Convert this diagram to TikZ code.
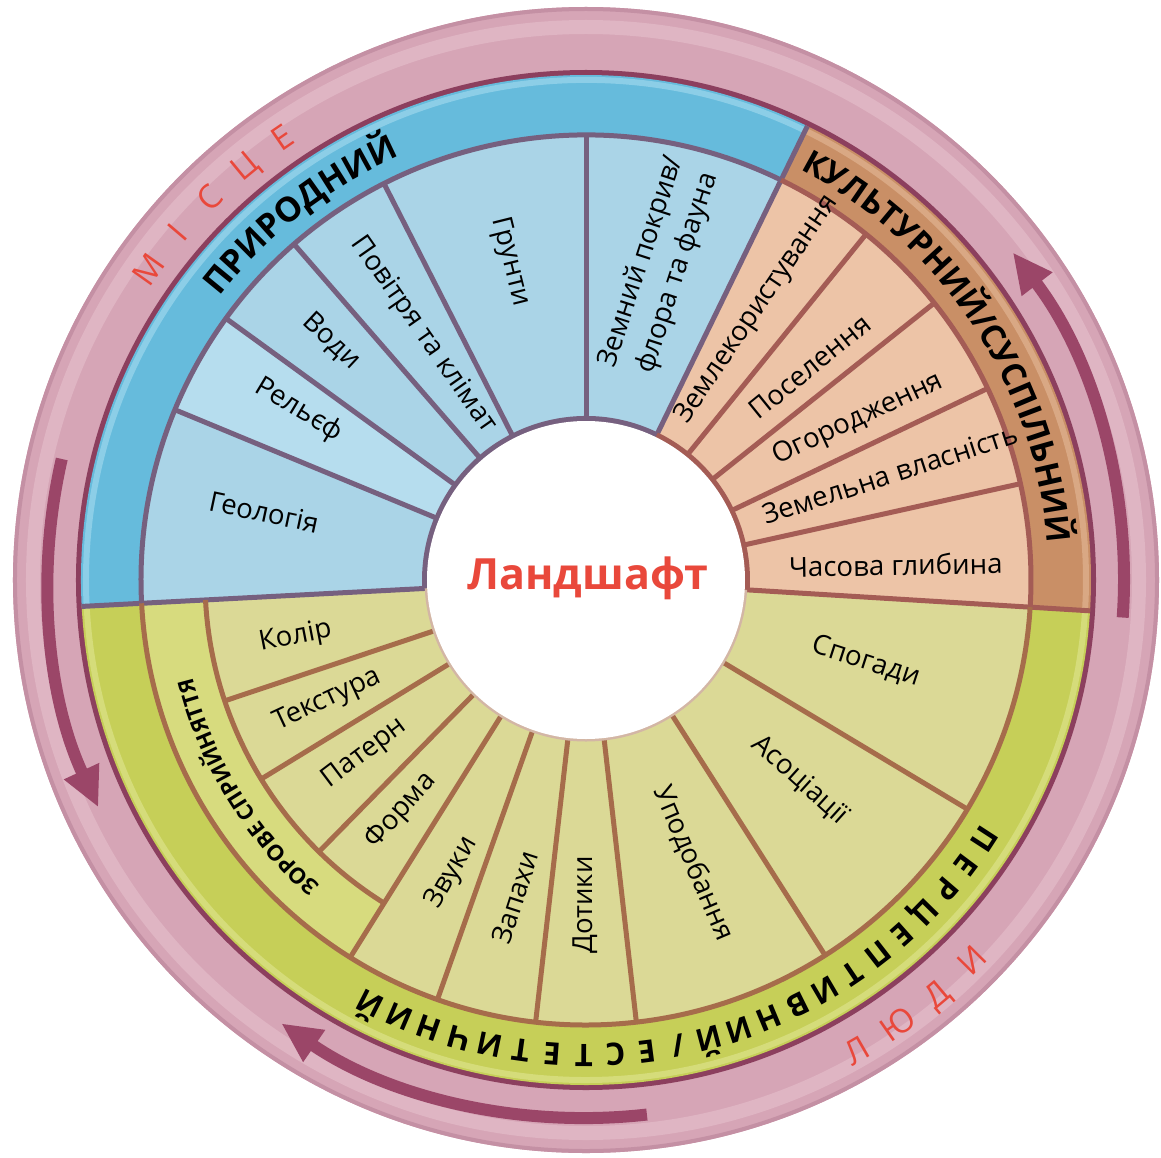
\documentclass[tikz,border=0pt]{standalone}
\usepackage{fontspec}
\setmainfont{Open Sans}
\usetikzlibrary{arrows.meta,decorations.text}
\definecolor{pinkmain}{HTML}{D6A5B6}
\definecolor{pinklight}{HTML}{DFB5C3}
\definecolor{pinkdark}{HTML}{C490A4}
\definecolor{maroon}{HTML}{9B4668}
\definecolor{rimmaroon}{HTML}{8C3F5E}
\definecolor{blueband}{HTML}{66BBDC}
\definecolor{bluebandlight}{HTML}{8CCEE7}
\definecolor{blueseg}{HTML}{AAD4E7}
\definecolor{bluesegl}{HTML}{B6DDEE}
\definecolor{blueline}{HTML}{76607F}
\definecolor{brownband}{HTML}{C98F66}
\definecolor{brownbandlight}{HTML}{D9A884}
\definecolor{brownseg}{HTML}{EDC4A7}
\definecolor{brownline}{HTML}{A45C55}
\definecolor{greenband}{HTML}{C6CF58}
\definecolor{greenbandlight}{HTML}{D5DC7A}
\definecolor{greenseg}{HTML}{DBD996}
\definecolor{greensub}{HTML}{D7DB7E}
\definecolor{greenline}{HTML}{A66C4B}
\definecolor{redtext}{HTML}{E9483B}
\newcommand\ringsector[5]{\fill[#1] (#2:#4) arc[start angle=#2,end angle=#3,radius=#4] -- (#3:#5) arc[start angle=#3,end angle=#2,radius=#5] -- cycle;}
\newcommand\ringarc[4]{\draw[#1] (#2:#4) arc[start angle=#2,end angle=#3,radius=#4];}
\begin{document}
\begin{tikzpicture}[x=0.5pt,y=0.5pt,
  lbl/.style={font=\fontsize{13.8}{19}\selectfont, inner sep=0pt, align=center, text=black},
  sepline/.style={line width=2.5pt, line cap=butt},
  arrowsty/.style={draw=maroon, line width=6pt, -{Triangle[width=18pt,length=20pt]}},
  bandletter/.style={font=\bfseries\fontsize{15.5}{18}\selectfont, anchor=base, inner sep=0pt},
  redletter/.style={font=\fontsize{16.5}{19}\selectfont, text=redtext, anchor=base, inner sep=0pt}
]
\useasboundingbox (-586,-577) rectangle (575,580);
% ---- outer pink ring
\fill[pinkmain] (0,0) circle[radius=573];
\draw[pinkdark, line width=2pt] (0,0) circle[radius=571];
\draw[pinklight, line width=7pt] (0,0) circle[radius=553];
\draw[rimmaroon, line width=3pt] (0,0) circle[radius=507];
% ---- arrows in the ring
\draw[arrowsty] (-4:538) arc[start angle=-4, end angle=37.5, radius=538];
\draw[arrowsty] (167:538) arc[start angle=167, end angle=205, radius=538];
\draw[arrowsty] (-83.5:538) arc[start angle=-83.5, end angle=-124.5, radius=538];
% ---- category bands
\ringsector{blueband}{64}{183}{150}{505}
\ringsector{brownband}{-3.5}{64}{150}{505}
\ringsector{greenband}{183}{356.5}{150}{505}
\ringarc{bluebandlight, line width=3pt}{64}{183}{500}
\ringarc{brownbandlight, line width=3pt}{-3.5}{64}{500}
\ringarc{greenbandlight, line width=3pt}{183}{356.5}{500}
% ---- segments
\ringsector{blueseg}{64}{183}{160}{445}
\ringsector{bluesegl}{144}{157.5}{160}{445}
\ringsector{brownseg}{-3.5}{64}{160}{445}
\ringsector{greenseg}{238}{356.5}{160}{445}
\ringsector{greensub}{183}{238}{381}{445}
\ringsector{greenseg}{183}{238}{160}{381}
% separators
\foreach \a in {157.5,144,131,117,90}
  \draw[sepline, blueline] (\a:160) -- (\a:445);
\foreach \a in {51,38.5,25.5,12.5}
  \draw[sepline, brownline] (\a:160) -- (\a:445);
\foreach \a in {198.5,211.5,225.5}
  \draw[sepline, greenline] (\a:160) -- (\a:381);
\foreach \a in {238,250.5,263.5,276.5,302.5,329}
  \draw[sepline, greenline] (\a:160) -- (\a:445);
\draw[sepline, blueline] (64:160) -- (64:505);
\draw[sepline, blueline] (183:160) -- (183:505);
\draw[sepline, brownline] (-3.5:160) -- (-3.5:505);
\ringarc{sepline, blueline}{64}{183}{445}
\ringarc{sepline, brownline}{-3.5}{64}{445}
\ringarc{sepline, greenline}{183}{356.5}{445}
\ringarc{sepline, greenline}{183}{238}{381}
% ---- centre
\ringarc{line width=3pt, blueline}{64}{183}{161}
\ringarc{line width=3pt, brownline}{-3.5}{64}{161}
\ringarc{line width=1.5pt, greenline!50}{183}{356.5}{160}
\fill[white] (0,0) circle[radius=159];
\node (title) [font=\bfseries\fontsize{21.5}{24}\selectfont, text=redtext] at (2,2) {Ландшафт};
% ---- band titles
\path[decorate, decoration={text along path, text align=center,
  text={|\bfseries\fontsize{17}{20}\selectfont|ПРИРОДНИЙ}}]
  (158:463) arc[start angle=158, end angle=98, radius=463];
\path[decorate, decoration={text along path, text align=center,
  text={|\bfseries\fontsize{16.5}{20}\selectfont|КУЛЬТУРНИЙ/СУСПІЛЬНИЙ}}]
  (75:463) arc[start angle=75, end angle=-8, radius=463];
\path[decorate, decoration={text along path, text align=center,
  text={|\bfseries\fontsize{11}{13}\selectfont|ЗОРОВЕ СПРИЙНЯТТЯ}}]
  (245:405) arc[start angle=245, end angle=178, radius=405];
\foreach \ch [count=\i from 0] in {П,Е,Р,Ц,Е,П,Т,И,В,Н,И,Й,/,Е,С,Т,Е,Т,И,Ч,Н,И,Й}
  \node[bandletter, rotate={-33-\i*3.818-90}] (pe\i) at ({-33-\i*3.818}:464) {\ch};
\foreach \ch [count=\i from 0] in {М,І,С,Ц,Е}
  \node[redletter, rotate={144.6-\i*5.03-90}] (mi\i) at ({144.6-\i*5.03}:525) {\ch};
\foreach \ch [count=\i from 0] in {Л,Ю,Д,И}
  \node[redletter, rotate={-60.1+\i*5.17+90}] (ly\i) at ({-60.1+\i*5.17}:554) {\ch};
% ---- segment labels
\node (geo) [lbl, rotate=-12] at (168.1:329) {Геологія};
\node (rel) [lbl, rotate=-31] at (149.4:334) {Рельєф};
\node (vod) [lbl, rotate=-43] at (136.9:349) {Води};
\node (pov) [lbl, rotate=-55] at (123.6:294) {Повітря та клімат};
\node (gru) [lbl, rotate=-76] at (103.4:327) {Грунти};
\node (zem) [lbl, rotate=72] at (76.7:321) {Земний покрив/\\флора та фауна};
\node (zku) [lbl, rotate=56] at (57.7:320) {Землекористування};
\node (pos) [lbl, rotate=39] at (43.6:309) {Поселення};
\node (ogo) [lbl, rotate=25] at (30.5:316) {Огородження};
\node (zvl) [lbl, rotate=18] at (19.2:322) {Земельна власність};
\node (chg) [lbl, rotate=1] at (2.8:310) {Часова глибина};
\node (spo) [lbl, rotate=-18] at (-16.3:292) {Спогади};
\node (aso) [lbl, rotate=-42] at (-43.1:293) {Асоціації};
\node (upo) [lbl, rotate=-67] at (-69.3:303) {Уподобання};
\node (dot) [lbl, rotate=90] at (-90.2:325) {Дотики};
\node (zap) [lbl, rotate=72] at (-102.6:325) {Запахи};
\node (zvu) [lbl, rotate=60] at (-114.6:322) {Звуки};
\node (for) [lbl, rotate=48] at (-128.7:296) {Форма};
\node (pat) [lbl, rotate=37] at (-141.9:281) {Патерн};
\node (tex) [lbl, rotate=25] at (-155.1:285) {Текстура};
\node (kol) [lbl, rotate=11] at (-168.9:296) {Колір};
\end{tikzpicture}
\end{document}
